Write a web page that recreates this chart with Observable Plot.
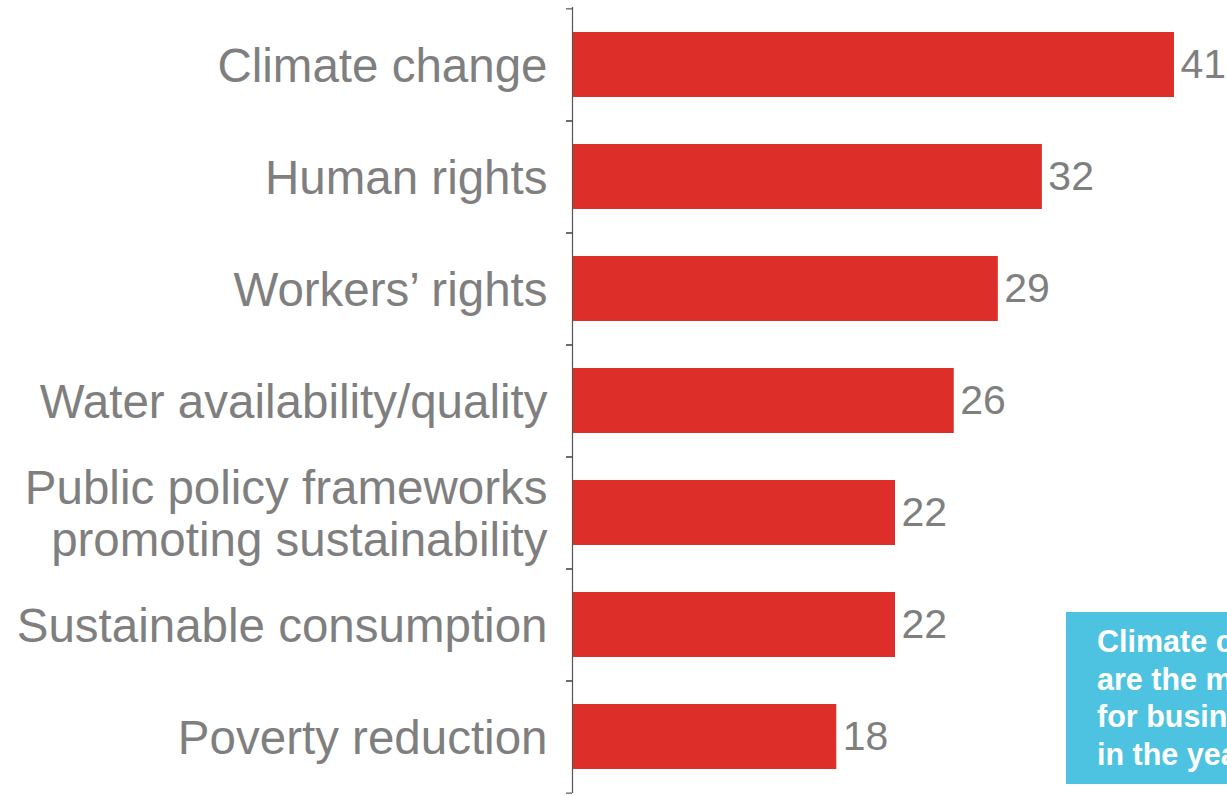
<!DOCTYPE html>
<html>
<head>
<meta charset="utf-8">
<script src="https://cdn.jsdelivr.net/npm/d3@7"></script>
<script src="https://cdn.jsdelivr.net/npm/@observablehq/plot@0.6"></script>
<style>
  html, body { margin: 0; padding: 0; background: #fff; overflow: hidden; width: 1227px; height: 796px; }
  #wrap { position: relative; width: 1227px; height: 796px; overflow: hidden; }
  #note {
    position: absolute; left: 1066px; top: 612px; width: 300px; height: 172px;
    background: #4dc3e1; color: #fff; font-family: "Liberation Sans", Arial, sans-serif;
    font-weight: bold; font-size: 30.5px; line-height: 37.5px; box-sizing: border-box;
    padding: 11px 0 0 31px; white-space: nowrap;
  }
</style>
</head>
<body>
<div id="wrap"></div>
<script>
const categories = [
  "Climate change",
  "Human rights",
  "Workers’ rights",
  "Water availability/quality",
  "Public policy frameworks\npromoting sustainability",
  "Sustainable consumption",
  "Poverty reduction"
];
const values = [41, 32, 29, 26, 22, 22, 18];
const noteLines = [
  "Climate change and human rights",
  "are the most important issues",
  "for business to address",
  "in the years ahead"
];

const data = categories.map((c, i) => ({category: c, value: values[i]}));

const step = (796 - 7 - 3) / categories.length;
const font = "Liberation Sans, Arial, sans-serif";

const chart = Plot.plot({
  width: 1227,
  height: 796,
  marginLeft: 572,
  marginRight: 0,
  marginTop: 7,
  marginBottom: 3,
  style: {fontFamily: font, background: "#fff"},
  x: {domain: [0, 41], range: [572, 1174], axis: null},
  y: {domain: categories, paddingInner: 0.42, paddingOuter: 0.21, axis: null, label: null},
  marks: [
    Plot.barX(data, {y: "category", x: "value", fill: "#dd2e2a"}),
    Plot.axisY({tickSize: 6, dy: -step / 2, text: null, label: null, stroke: "#555", strokeWidth: 1.2, anchor: "left"}),
    Plot.axisY({tickSize: 6, dy: step / 2, text: null, label: null, stroke: "#555", strokeWidth: 1.2, anchor: "left"}),
    Plot.ruleX([0], {stroke: "#555", strokeWidth: 1.2}),
    Plot.text(data, {
      y: "category", x: 0, text: "category", textAnchor: "end", dx: -25,
      fontSize: 47.5, fill: "#7f7f7f", lineHeight: 1.1
    }),
    Plot.text(data, {
      y: "category", x: "value", text: d => String(d.value), textAnchor: "start", dx: 6,
      fontSize: 41, fill: "#7f7f7f"
    })
  ]
});

const wrap = document.getElementById("wrap");
wrap.appendChild(chart);
const note = document.createElement("div");
note.id = "note";
note.innerHTML = noteLines.map(s => `<div>${s}</div>`).join("");
wrap.appendChild(note);
</script>
</body>
</html>
